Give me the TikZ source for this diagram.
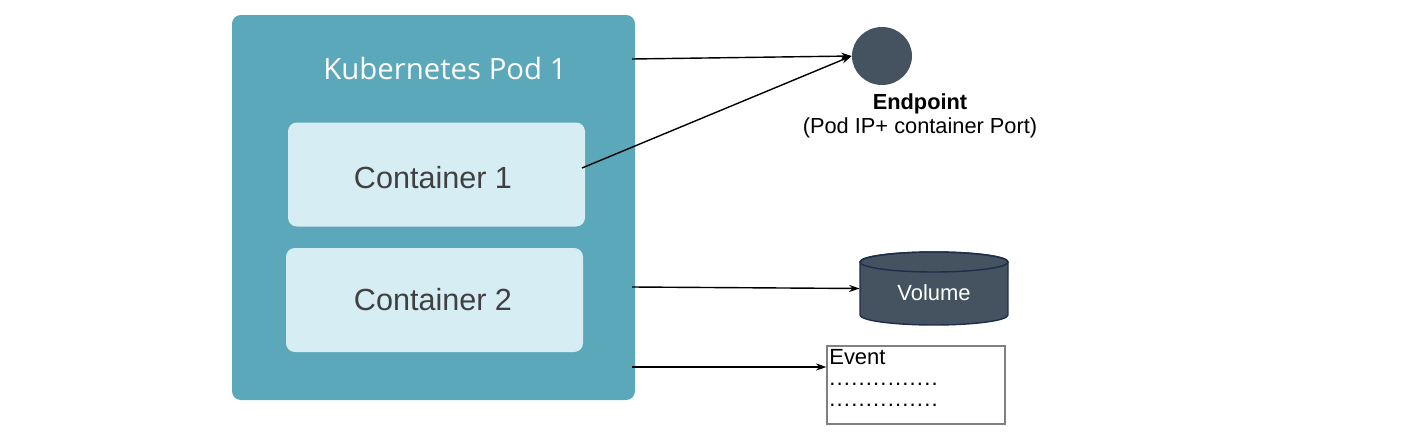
\documentclass[tikz,border=0pt]{standalone}
\usepackage{fontspec}
\setmainfont{Liberation Sans}
\newfontfamily\podfont{Open Sans}
\usetikzlibrary{shapes.geometric,arrows.meta}
\definecolor{podblue}{RGB}{91,168,187}
\definecolor{contblue}{RGB}{214,237,243}
\definecolor{slate}{RGB}{68,83,95}
\definecolor{slateedge}{RGB}{30,45,75}
\definecolor{txtgray}{RGB}{64,64,64}
\newcommand\evdot{\makebox[0.146cm][l]{.}}
\newcommand\evdots{\evdot\evdot\evdot\evdot\evdot\evdot\evdot\evdot\evdot\evdot\evdot\evdot\evdot\evdot\evdot}
\begin{document}
\begin{tikzpicture}[x=0.02cm,y=-0.02cm,
  conn/.style={draw=black,line width=0.8pt,-{Stealth[length=6pt,width=4pt]}},
  contbox/.style={fill=contblue,rounded corners=5pt,minimum width=297*0.02cm,minimum height=104*0.02cm,inner sep=0pt},
  conttext/.style={text=txtgray,font=\fontsize{17.4}{20}\selectfont,inner sep=0pt},
  evtext/.style={anchor=west,inner sep=0pt,font=\fontsize{12.5}{14}\selectfont}]
\useasboundingbox (0,0) rectangle (1414,436);
\fill[white] (0,0) rectangle (1414,436);
\node[fill=podblue,rounded corners=5pt,minimum width=403*0.02cm,minimum height=385*0.02cm,inner sep=0pt] (pod) at (433.5,207.5) {};
\node[text=white,font=\podfont\fontsize{16.7}{19}\selectfont] (podtitle) at (445,68) {Kubernetes Pod 1};
\node[contbox] (c1) at (436.5,174.5) {};
\node[conttext] (c1t) at (433,178) {Container 1};
\node[contbox] (c2) at (434.5,300) {};
\node[conttext] (c2t) at (433,300) {Container 2};
\node[ellipse,fill=slate,minimum width=60*0.02cm,minimum height=58*0.02cm,inner sep=0pt] (ep) at (882,56) {};
\node[font=\bfseries\fontsize{12.4}{14}\selectfont] (eplabel) at (920,104) {Endpoint};
\node[font=\fontsize{12.4}{14}\selectfont] (epsub) at (920,128) {(Pod IP+ container Port)};
\filldraw[fill=slate,draw=slateedge,line width=0.8pt]
  (860,262) -- (860,315) arc[start angle=180,end angle=360,x radius=1.48cm,y radius=0.2cm] -- (1008,262)
  arc[start angle=0,end angle=180,x radius=1.48cm,y radius=0.2cm] -- cycle;
\draw[draw=slateedge,line width=0.8pt] (934,262) ellipse[x radius=1.48cm,y radius=0.2cm];
\node[minimum width=148*0.02cm,minimum height=73*0.02cm,inner sep=0pt] (vol) at (934,288.5) {};
\node[text=white,font=\fontsize{12.5}{14}\selectfont] (vollabel) at (934,293) {Volume};
\node[draw=gray,line width=0.6pt,minimum width=178*0.02cm,minimum height=78*0.02cm,inner sep=0pt] (ev) at (916,385) {};
\node[evtext] (evt) at (829,357) {Event};
\node[evtext] (d1) at (829,384) {\evdots};
\node[evtext] (d2) at (829,405) {\evdots};
\coordinate (s1) at (632,59);
\coordinate (s2) at (582,168);
\coordinate (s3) at (632,287);
\coordinate (s4) at (632,367);
\draw[conn] (s1) -- (ep.west);
\draw[conn] (s2) -- (ep.west);
\draw[conn] (s3) -- (vol.west);
\draw[conn] (s4) -- (ev.west |- s4);
\end{tikzpicture}
\end{document}
